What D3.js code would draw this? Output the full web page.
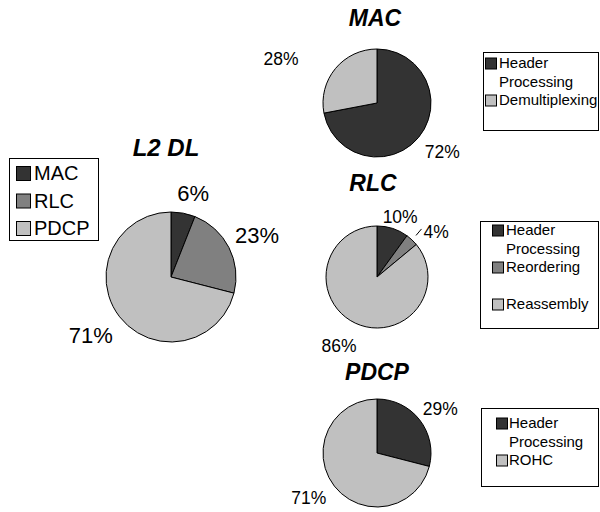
<!DOCTYPE html>
<html>
<head>
<meta charset="utf-8">
<script src="https://cdn.jsdelivr.net/npm/d3@7"></script>
<style>
  html, body { margin: 0; padding: 0; background: #fff; }
  svg text { font-family: Arial, "Liberation Sans", Helvetica, sans-serif; }
</style>
</head>
<body>
<svg id="chart" width="600" height="512"></svg>
<script>
// ---- data ----
const l2Categories = ["MAC", "RLC", "PDCP"];
const l2Values = [6, 23, 71];

const macCategories = ["Header\nProcessing", "Demultiplexing"];
const macValues = [72, 28];

const rlcCategories = ["Header\nProcessing", "Reordering\n", "Reassembly"];
const rlcValues = [10, 4, 86];

const pdcpCategories = ["Header\nProcessing", "ROHC"];
const pdcpValues = [29, 71];

// fills: first slice darkest, last slice lightest
const fillsThree = ["#333333", "#808080", "#c0c0c0"];
const fillsTwo = ["#333333", "#c0c0c0"];

const FONT = "Arial, 'Liberation Sans', Helvetica, sans-serif";
const svg = d3.select("#chart");

function drawPie(cfg) {
  const data = cfg.categories.map((c, i) => ({ name: c, value: cfg.values[i], fill: cfg.fills[i] }));
  const total = d3.sum(data, d => d.value);
  const pie = d3.pie().value(d => d.value).sort(null);
  const arcs = pie(data);
  const arc = d3.arc().innerRadius(0).outerRadius(cfg.r);

  const g = svg.append("g").attr("transform", `translate(${cfg.cx},${cfg.cy})`);
  g.selectAll("path.slice").data(arcs).join("path")
    .attr("class", "slice")
    .attr("d", arc)
    .attr("fill", d => d.data.fill)
    .attr("stroke", "#000")
    .attr("stroke-width", 1);

  // percentage labels outside the slices
  arcs.forEach((a, i) => {
    const nudge = cfg.labelNudge[i];
    const mid = (a.startAngle + a.endAngle) / 2 + nudge.da * Math.PI / 180;
    const pct = Math.round(a.data.value / total * 100) + "%";
    const t = g.append("text")
      .attr("font-family", FONT)
      .attr("font-size", cfg.labelSize)
      .attr("fill", "#000")
      .attr("text-anchor", "middle")
      .text(pct);
    const w = t.node().getComputedTextLength();
    const h = cfg.labelSize * 0.716;
    const s = Math.sin(mid), c = Math.cos(mid);
    const d = cfg.r + nudge.pad + (w / 2) * Math.abs(s) + (h / 2) * Math.abs(c);
    const x = d * s, y = -d * c;
    t.attr("x", x).attr("y", y + h / 2);
    if (nudge.leader) {
      const am = (a.startAngle + a.endAngle) / 2;
      const r0 = cfg.r + 6;
      g.append("line")
        .attr("x1", r0 * Math.sin(am)).attr("y1", -r0 * Math.cos(am))
        .attr("x2", x - w / 2 - 2).attr("y2", y - 3)
        .attr("stroke", "#000").attr("stroke-width", 1);
    }
  });

  // title
  svg.append("text")
    .attr("x", cfg.title.x).attr("y", cfg.title.y)
    .attr("text-anchor", "middle")
    .attr("font-family", FONT)
    .attr("font-size", cfg.title.size)
    .attr("font-weight", "bold")
    .attr("font-style", "italic")
    .text(cfg.title.text);

  // legend
  const L = cfg.legend;
  svg.append("rect")
    .attr("x", L.x + 0.5).attr("y", L.y + 0.5)
    .attr("width", L.w).attr("height", L.h)
    .attr("fill", "#fff").attr("stroke", "#000").attr("stroke-width", 1);
  let row = 0;
  data.forEach(d => {
    const lines = d.name.split("\n");
    const yc = L.firstRow + row * L.rowStep;
    svg.append("rect")
      .attr("x", L.swX + 0.5).attr("y", yc - L.sw / 2 + 0.5)
      .attr("width", L.sw).attr("height", L.sw)
      .attr("fill", d.fill).attr("stroke", "#000").attr("stroke-width", 1);
    const tx = svg.append("text")
      .attr("font-family", FONT)
      .attr("font-size", L.size)
      .attr("fill", "#000");
    lines.forEach((ln, k) => {
      tx.append("tspan")
        .attr("x", L.textX)
        .attr("y", yc + k * L.rowStep + L.size * 0.358)
        .text(ln);
    });
    row += lines.length;
  });
}

drawPie({
  categories: l2Categories, values: l2Values, fills: fillsThree,
  cx: 171, cy: 277, r: 65, labelSize: 22,
  labelNudge: [{ da: 4, pad: 10 }, { da: 1, pad: 7.5 }, { da: 2, pad: 11.5 }],
  title: { text: "L2 DL", x: 166, y: 156, size: 24 },
  legend: { x: 9, y: 158, w: 89, h: 82, swX: 16, sw: 14, textX: 34, firstRow: 173, rowStep: 27.5, size: 20 }
});

drawPie({
  categories: macCategories, values: macValues, fills: fillsTwo,
  cx: 377, cy: 103, r: 54, labelSize: 17.5,
  labelNudge: [{ da: -3, pad: 9.5 }, { da: -15, pad: 33 }],
  title: { text: "MAC", x: 375, y: 26, size: 23 },
  legend: { x: 483, y: 52, w: 115, h: 78, swX: 485, sw: 11, textX: 499, firstRow: 63, rowStep: 18.5, size: 15 }
});

drawPie({
  categories: rlcCategories, values: rlcValues, fills: fillsThree,
  cx: 377, cy: 277, r: 51, labelSize: 17.5,
  labelNudge: [{ da: 3, pad: 1.5 }, { da: 9.5, pad: 9.5, leader: true }, { da: 3.5, pad: 14 }],
  title: { text: "RLC", x: 373, y: 191, size: 23 },
  legend: { x: 480, y: 221, w: 118, h: 107, swX: 492, sw: 11, textX: 506, firstRow: 230, rowStep: 18.5, size: 15 }
});

drawPie({
  categories: pdcpCategories, values: pdcpValues, fills: fillsTwo,
  cx: 377, cy: 453, r: 54, labelSize: 17.5,
  labelNudge: [{ da: 3, pad: 5 }, { da: 4.5, pad: 9.5 }],
  title: { text: "PDCP", x: 377, y: 380, size: 23 },
  legend: { x: 481, y: 408, w: 117, h: 78, swX: 496, sw: 11, textX: 509, firstRow: 423, rowStep: 18.5, size: 15 }
});
</script>
</body>
</html>
